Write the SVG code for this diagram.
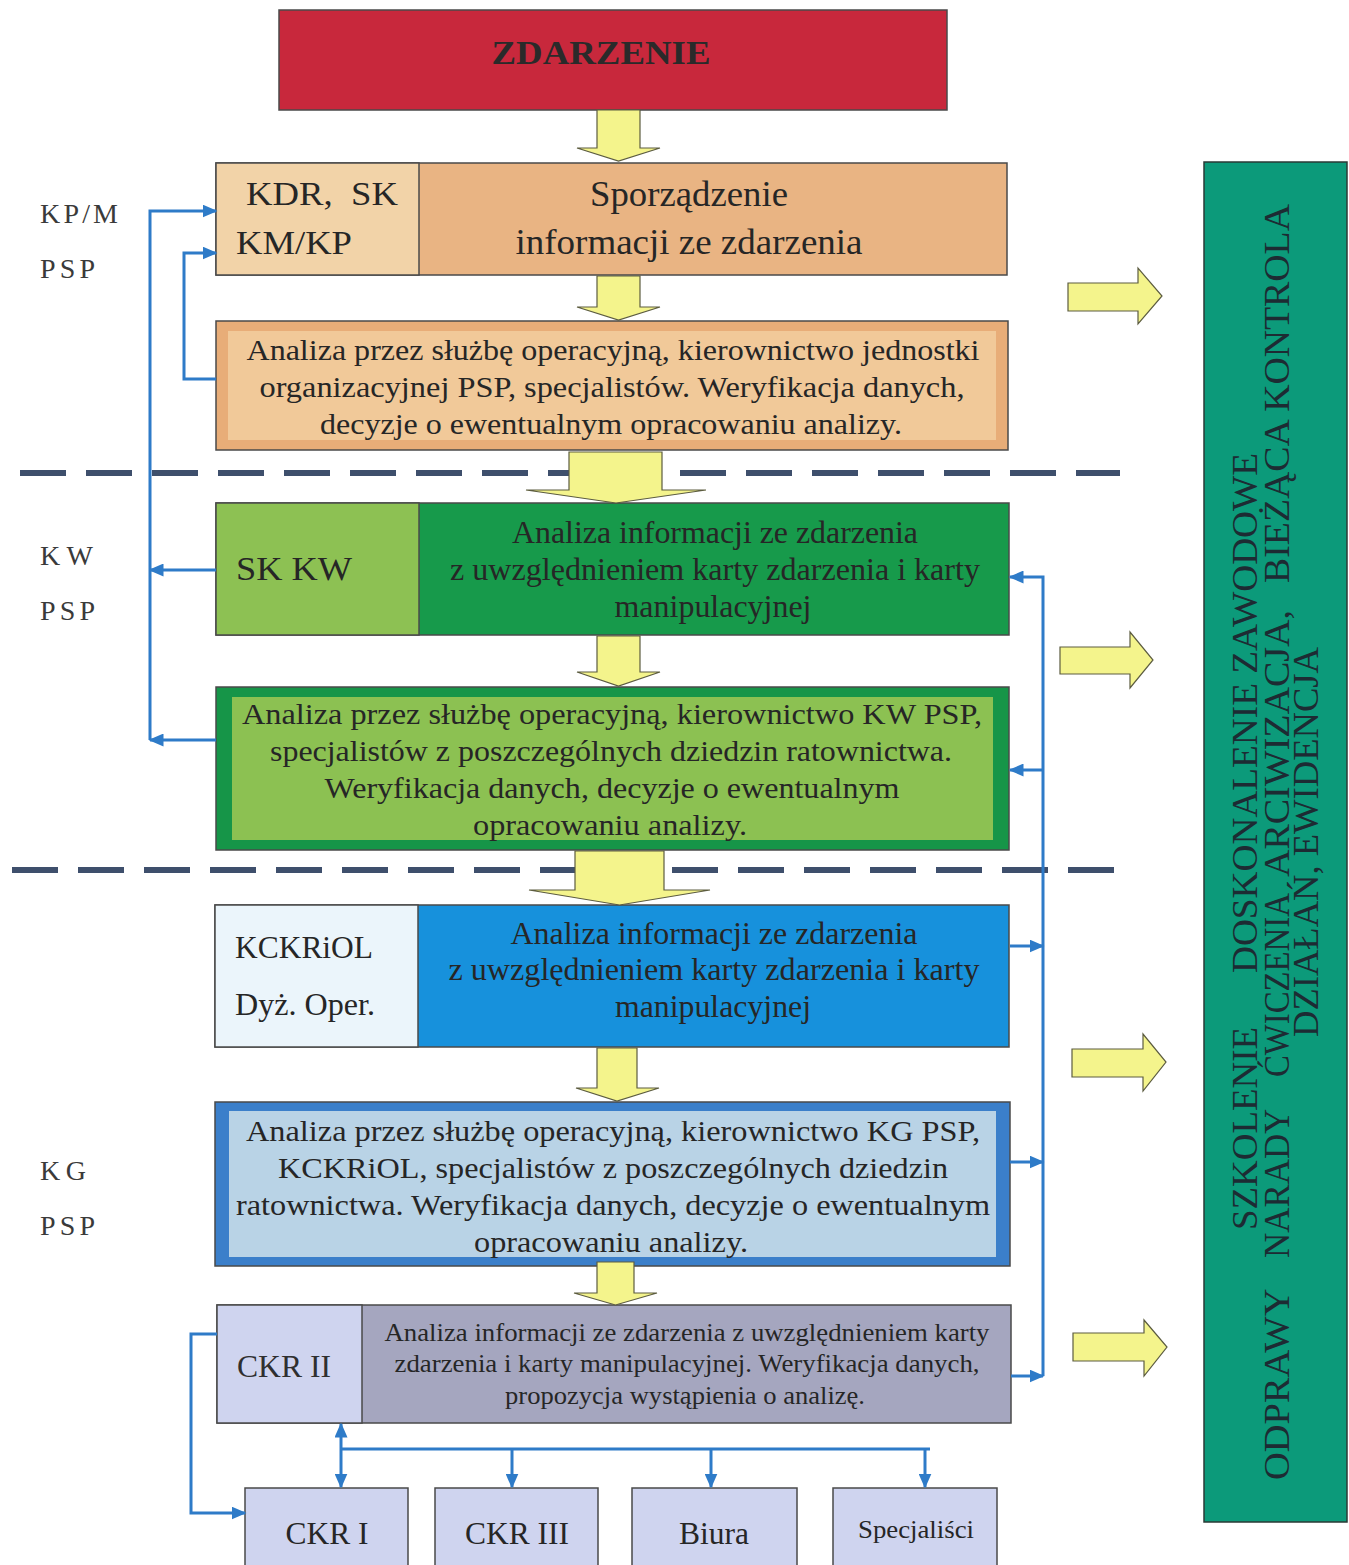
<svg xmlns="http://www.w3.org/2000/svg" width="1349" height="1565" viewBox="0 0 1349 1565">
<defs>
<style>
text{font-family:"Liberation Serif","Times New Roman",serif;fill:#262626}
.lbl{font-size:28px;fill:#3a3a3a}
.t35{font-size:35px;text-anchor:middle}
.t30{font-size:30px;text-anchor:middle}
.t32{font-size:32px;text-anchor:middle}
.t26{font-size:26px;text-anchor:middle}
.side{font-size:34px}
.box{stroke:#4a4a4a;stroke-width:1.5}
.ya{fill:#f4f48c;stroke:#5c5c40;stroke-width:1.2}
.con{fill:none;stroke:#2e7bc8;stroke-width:3}
.dash{stroke:#3e4f6c;stroke-width:6;stroke-dasharray:46 20}
.pan{font-size:36px;fill:#1d2b33}
</style>
<marker id="ah" viewBox="0 0 10 10" refX="9" refY="5" markerWidth="15" markerHeight="13" markerUnits="userSpaceOnUse" orient="auto-start-reverse" preserveAspectRatio="none">
<path d="M0,0 L10,5 L0,10 z" fill="#2e7bc8"/>
</marker>
</defs>

<g id="dashes">
<line class="dash" x1="20" y1="473" x2="1120" y2="473"/>
<line class="dash" x1="12" y1="870" x2="1128" y2="870"/>
</g>

<g id="level-labels">
<text class="lbl" x="40" y="223" textLength="78">KP/M</text>
<text class="lbl" x="40" y="278" textLength="55">PSP</text>
<text class="lbl" x="40" y="565" textLength="53">KW</text>
<text class="lbl" x="40" y="620" textLength="55">PSP</text>
<text class="lbl" x="40" y="1180" textLength="46">KG</text>
<text class="lbl" x="40" y="1235" textLength="55">PSP</text>
</g>

<g id="n-zdarzenie">
<rect class="box" x="279" y="10" width="668" height="100" fill="#c8283c"/>
<text x="601" y="64" style="font-size:34px;font-weight:bold;text-anchor:middle;fill:#2a2a2a" textLength="219" lengthAdjust="spacingAndGlyphs">ZDARZENIE</text>
</g>

<g id="n-sporzadzenie">
<rect class="box" x="216" y="163" width="791" height="112" fill="#e9b483"/>
<rect class="box" x="216" y="163" width="203" height="112" fill="#f2d3a8"/>
<text class="side" x="246" y="205" textLength="152" lengthAdjust="spacingAndGlyphs" xml:space="preserve">KDR,  SK</text>
<text class="side" x="236" y="254" textLength="116" lengthAdjust="spacingAndGlyphs">KM/KP</text>
<text class="t35" x="689" y="206" textLength="198" lengthAdjust="spacingAndGlyphs">Sporządzenie</text>
<text class="t35" x="689" y="254" textLength="347" lengthAdjust="spacingAndGlyphs">informacji ze zdarzenia</text>
</g>

<g id="n-analiza-kpm">
<rect class="box" x="216" y="321" width="792" height="129" fill="#e8ad78"/>
<rect x="228" y="331" width="768" height="109" fill="#f1c999"/>
<text class="t30" x="613" y="360" textLength="733" lengthAdjust="spacingAndGlyphs">Analiza przez służbę operacyjną, kierownictwo jednostki</text>
<text class="t30" x="612" y="397" textLength="705" lengthAdjust="spacingAndGlyphs">organizacyjnej PSP, specjalistów. Weryfikacja danych,</text>
<text class="t30" x="611" y="434" textLength="582" lengthAdjust="spacingAndGlyphs">decyzje o ewentualnym opracowaniu analizy.</text>
</g>

<g id="n-skkw">
<rect class="box" x="216" y="503" width="793" height="132" fill="#179a4b"/>
<rect class="box" x="216" y="503" width="203" height="132" fill="#8dc153"/>
<text class="side" x="236" y="580" textLength="116" lengthAdjust="spacingAndGlyphs">SK KW</text>
<text class="t32" x="715" y="543" textLength="406" lengthAdjust="spacingAndGlyphs">Analiza informacji ze zdarzenia</text>
<text class="t32" x="715" y="580" textLength="530" lengthAdjust="spacingAndGlyphs">z uwzględnieniem karty zdarzenia i karty</text>
<text class="t32" x="713" y="617" textLength="197" lengthAdjust="spacingAndGlyphs">manipulacyjnej</text>
</g>

<g id="n-analiza-kw">
<rect class="box" x="216" y="687" width="793" height="163" fill="#169548"/>
<rect x="232" y="697" width="761" height="143" fill="#8cc152"/>
<text class="t30" x="612" y="724" textLength="740" lengthAdjust="spacingAndGlyphs">Analiza przez służbę operacyjną, kierownictwo KW PSP,</text>
<text class="t30" x="611" y="761" textLength="682" lengthAdjust="spacingAndGlyphs">specjalistów z poszczególnych dziedzin ratownictwa.</text>
<text class="t30" x="612" y="798" textLength="575" lengthAdjust="spacingAndGlyphs">Weryfikacja danych, decyzje o ewentualnym</text>
<text class="t30" x="610" y="835" textLength="274" lengthAdjust="spacingAndGlyphs">opracowaniu analizy.</text>
</g>

<g id="n-kckriol">
<rect class="box" x="215" y="905" width="794" height="142" fill="#1791dc"/>
<rect class="box" x="215" y="905" width="203" height="142" fill="#ebf5fb"/>
<text x="235" y="958" textLength="138" lengthAdjust="spacingAndGlyphs" style="font-size:32px">KCKRiOL</text>
<text x="235" y="1015" textLength="140" lengthAdjust="spacingAndGlyphs" style="font-size:32px">Dyż. Oper.</text>
<text class="t32" x="714" y="944" textLength="407" lengthAdjust="spacingAndGlyphs">Analiza informacji ze zdarzenia</text>
<text class="t32" x="714" y="980" textLength="531" lengthAdjust="spacingAndGlyphs">z uwzględnieniem karty zdarzenia i karty</text>
<text class="t32" x="713" y="1017" textLength="196" lengthAdjust="spacingAndGlyphs">manipulacyjnej</text>
</g>

<g id="n-analiza-kg">
<rect class="box" x="215" y="1102" width="795" height="164" fill="#3b7fca"/>
<rect x="229" y="1111" width="767" height="146" fill="#b9d3e6"/>
<text class="t30" x="613" y="1141" textLength="734" lengthAdjust="spacingAndGlyphs">Analiza przez służbę operacyjną, kierownictwo KG PSP,</text>
<text class="t30" x="613" y="1178" textLength="670" lengthAdjust="spacingAndGlyphs">KCKRiOL, specjalistów z poszczególnych dziedzin</text>
<text class="t30" x="613" y="1215" textLength="754" lengthAdjust="spacingAndGlyphs">ratownictwa. Weryfikacja danych, decyzje o ewentualnym</text>
<text class="t30" x="611" y="1252" textLength="274" lengthAdjust="spacingAndGlyphs">opracowaniu analizy.</text>
</g>

<g id="n-ckr2">
<rect class="box" x="217" y="1305" width="794" height="118" fill="#a5a6bf"/>
<rect class="box" x="217" y="1305" width="145" height="118" fill="#cfd4ef"/>
<text x="237" y="1377" textLength="94" lengthAdjust="spacingAndGlyphs" style="font-size:32px;fill:#2f2f2f">CKR II</text>
<text class="t26" x="687" y="1341" textLength="605" lengthAdjust="spacingAndGlyphs">Analiza informacji ze zdarzenia z uwzględnieniem karty</text>
<text class="t26" x="687" y="1372" textLength="585" lengthAdjust="spacingAndGlyphs">zdarzenia i karty manipulacyjnej. Weryfikacja danych,</text>
<text class="t26" x="685" y="1404" textLength="360" lengthAdjust="spacingAndGlyphs">propozycja wystąpienia o analizę.</text>
</g>

<g id="n-ckr1">
<rect class="box" x="245" y="1488" width="163" height="90" fill="#cfd4ef"/>
<text class="t32" x="327" y="1544" textLength="83" lengthAdjust="spacingAndGlyphs">CKR I</text>
</g>
<g id="n-ckr3">
<rect class="box" x="435" y="1488" width="163" height="90" fill="#cfd4ef"/>
<text class="t32" x="517" y="1544" textLength="104" lengthAdjust="spacingAndGlyphs">CKR III</text>
</g>
<g id="n-biura">
<rect class="box" x="632" y="1488" width="165" height="90" fill="#cfd4ef"/>
<text class="t32" x="714" y="1544" textLength="70" lengthAdjust="spacingAndGlyphs">Biura</text>
</g>
<g id="n-specjalisci">
<rect class="box" x="833" y="1488" width="164" height="90" fill="#cfd4ef"/>
<text class="t26" x="916" y="1538" textLength="116" lengthAdjust="spacingAndGlyphs">Specjaliści</text>
</g>

<g id="n-panel">
<rect x="1204" y="162" width="143" height="1360" fill="#0c9a7a" stroke="#2a3a36" stroke-width="1.5"/>
<text class="pan" transform="rotate(-90)">
<tspan x="-1230" y="1257" textLength="203" lengthAdjust="spacingAndGlyphs">SZKOLENIE</tspan>
<tspan x="-973" y="1257" textLength="520" lengthAdjust="spacingAndGlyphs">DOSKONALENIE ZAWODOWE</tspan>
</text>
<text class="pan" transform="rotate(-90)">
<tspan x="-1480" y="1289" textLength="190" lengthAdjust="spacingAndGlyphs">ODPRAWY</tspan>
<tspan x="-1258" y="1289" textLength="148" lengthAdjust="spacingAndGlyphs">NARADY</tspan>
<tspan x="-1077" y="1289" textLength="182" lengthAdjust="spacingAndGlyphs">ĆWICZENIA</tspan>
<tspan x="-877" y="1289" textLength="267" lengthAdjust="spacingAndGlyphs">ARCIWIZACJA,</tspan>
<tspan x="-583" y="1289" textLength="379" lengthAdjust="spacingAndGlyphs">BIEŻĄCA KONTROLA</tspan>
</text>
<text class="pan" transform="rotate(-90)">
<tspan x="-1037" y="1318" textLength="390" lengthAdjust="spacingAndGlyphs">DZIAŁAŃ, EWIDENCJA</tspan>
</text>
</g>

<g id="connectors">
<polygon class="ya" points="597,110 640,110 640,148 660,148 618.5,161 577,148 597,148"/>
<polygon class="ya" points="597,276 640,276 640,307 660,307 618.5,320 577,307 597,307"/>
<polygon class="ya" points="569,452 662,452 662,490 706,490 616,503 526,490 569,490"/>
<polygon class="ya" points="597,636 640,636 640,672 660,672 618.5,686 577,672 597,672"/>
<polygon class="ya" points="575,851 664,851 664,890 710,890 619.5,905 529,890 575,890"/>
<polygon class="ya" points="597,1048 637,1048 637,1088 659,1088 617,1101 576,1088 597,1088"/>
<polygon class="ya" points="597,1262 634,1262 634,1293 657,1293 615.5,1305 574,1293 597,1293"/>

<polygon class="ya" points="1068,283 1138,283 1138,268 1162,296 1138,324 1138,311 1068,311"/>
<polygon class="ya" points="1060,647 1130,647 1130,632 1153,660 1130,688 1130,674 1060,674"/>
<polygon class="ya" points="1072,1049 1143,1049 1143,1034 1166,1062 1143,1091 1143,1077 1072,1077"/>
<polygon class="ya" points="1073,1333 1144,1333 1144,1320 1167,1347 1144,1376 1144,1361 1073,1361"/>

<path class="con" d="M150,740 V211 H216" marker-end="url(#ah)"/>
<path class="con" d="M216,570 H150" marker-end="url(#ah)"/>
<path class="con" d="M216,740 H150" marker-end="url(#ah)"/>
<path class="con" d="M216,379 H184 V253 H216" marker-end="url(#ah)"/>

<path class="con" d="M1043,1376 V577 H1010" marker-end="url(#ah)"/>
<path class="con" d="M1043,770 H1010" marker-end="url(#ah)"/>
<path class="con" d="M1010,946 H1043" marker-end="url(#ah)"/>
<path class="con" d="M1010,1162 H1043" marker-end="url(#ah)"/>
<path class="con" d="M1011,1376 H1043" marker-end="url(#ah)"/>

<path class="con" d="M217,1334 H191 V1513 H245" marker-end="url(#ah)"/>
<path class="con" d="M341,1424 V1487" marker-start="url(#ah)" marker-end="url(#ah)"/>
<path class="con" d="M341,1449 H930"/>
<path class="con" d="M512,1449 V1487" marker-end="url(#ah)"/>
<path class="con" d="M711,1449 V1487" marker-end="url(#ah)"/>
<path class="con" d="M925,1449 V1487" marker-end="url(#ah)"/>
</g>
</svg>
